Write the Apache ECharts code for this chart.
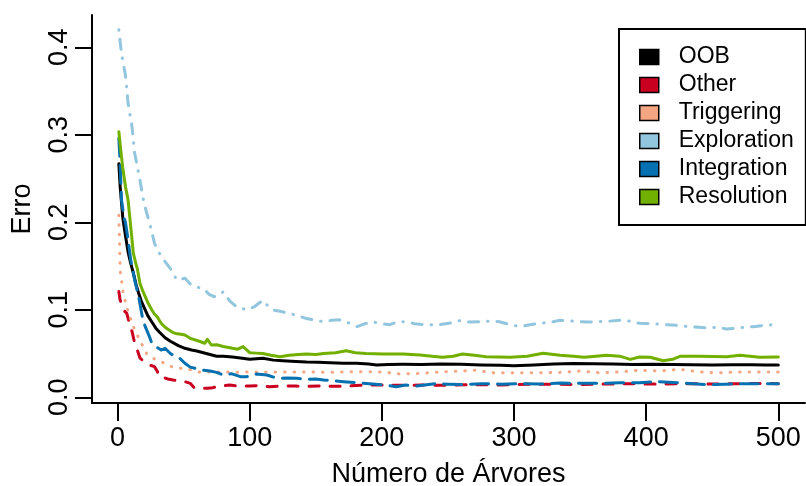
<!DOCTYPE html>
<html>
<head>
<meta charset="utf-8">
<script src="https://cdn.jsdelivr.net/npm/echarts@6/dist/echarts.min.js"></script>
<style>
  html, body { margin: 0; padding: 0; background: #fff; }
  #chart { width: 806px; height: 486px; }
</style>
</head>
<body>
<div id="chart"></div>
<script>
// valores (numero de arvores -> erro)
var xTicks = [0, 100, 200, 300, 400, 500];
var yTicks = [0, 0.1, 0.2, 0.3, 0.4];

var oobTrees = [1,2,4,6,8,10,12,14,16,18,20,23,26,29,32,36,40,46,51,56,60,65,70,75,80,87,93,100,105,110,118,125,135,143,152,161,171,181,190,196,205,216,230,245,260,275,290,300,315,330,345,360,375,390,405,420,435,450,465,480,490,500];
var oobErr = [0.267,0.241,0.205,0.185,0.166,0.153,0.142,0.129,0.119,0.110,0.103,0.093,0.086,0.079,0.074,0.068,0.064,0.059,0.056,0.054,0.053,0.051,0.049,0.047,0.047,0.046,0.045,0.0434,0.044,0.0446,0.0425,0.0418,0.041,0.0403,0.040,0.0396,0.039,0.0389,0.038,0.037,0.0375,0.0377,0.0375,0.038,0.0377,0.037,0.0365,0.036,0.037,0.038,0.0385,0.0383,0.038,0.0375,0.0378,0.0375,0.0372,0.037,0.0372,0.0373,0.037,0.037];

var otherTrees = [1,2,3,5,7,9,11,13,15,17,19,21,24,28,30,32,35,38,42,46,51,55,58,64,68,72,78,85,92,100,108,115,125,135,145,155,165,175,185,195,205,215,230,250,270,290,310,330,350,370,390,410,430,450,470,490,500];
var otherErr = [0.121,0.111,0.107,0.099,0.096,0.085,0.075,0.062,0.054,0.045,0.042,0.039,0.037,0.035,0.030,0.023,0.0225,0.021,0.0198,0.019,0.0179,0.016,0.011,0.0105,0.0103,0.011,0.013,0.014,0.0125,0.013,0.0135,0.012,0.013,0.0128,0.0125,0.013,0.0125,0.013,0.0137,0.014,0.014,0.0137,0.014,0.0137,0.0145,0.014,0.0148,0.015,0.0145,0.0152,0.0155,0.015,0.0156,0.0152,0.0156,0.0158,0.0156];

var trigTrees = [1,2,3,4,6,8,11,14,18,22,27,33,41,48,56,63,70,80,90,100,115,130,145,160,180,200,214,230,245,260,270,285,300,320,335,350,365,380,395,410,425,440,455,470,485,500];
var trigErr = [0.208,0.145,0.134,0.122,0.109,0.098,0.0846,0.074,0.062,0.050,0.0446,0.0407,0.035,0.0331,0.0312,0.0285,0.029,0.029,0.0285,0.029,0.029,0.029,0.029,0.0285,0.0293,0.029,0.0266,0.0275,0.029,0.030,0.031,0.028,0.028,0.028,0.0285,0.030,0.028,0.029,0.031,0.030,0.032,0.029,0.028,0.029,0.029,0.029];

var explTrees = [1,3,6,8,11,13,17,20,25,28,33,40,45,51,56,59,65,69,73,77,80,85,90,98,104,110,114,118,124,130,137,143,150,156,162,168,175,181,187,193,200,206,212,219,225,231,244,252,259,266,274,282,289,297,305,312,320,328,335,345,355,363,372,380,388,395,405,416,425,433,440,446,454,461,468,474,481,488,496,500];
var explErr = [0.420,0.393,0.368,0.336,0.309,0.279,0.248,0.222,0.195,0.176,0.161,0.147,0.134,0.136,0.128,0.126,0.1245,0.118,0.115,0.117,0.1207,0.110,0.1035,0.0998,0.104,0.111,0.104,0.0998,0.098,0.096,0.093,0.090,0.088,0.0864,0.088,0.0886,0.085,0.0807,0.084,0.0864,0.084,0.083,0.0864,0.0864,0.084,0.083,0.083,0.085,0.0876,0.086,0.0864,0.087,0.0864,0.083,0.0807,0.083,0.0846,0.086,0.088,0.087,0.086,0.0864,0.087,0.088,0.087,0.0846,0.084,0.083,0.082,0.0807,0.080,0.0795,0.080,0.078,0.079,0.080,0.0807,0.082,0.083,0.0853];

var integTrees = [1,2,3,5,6,8,10,13,16,19,21,24,26,29,33,36,40,44,47,51,55,59,65,70,75,80,86,93,98,105,113,121,128,136,143,150,156,163,171,181,193,203,211,218,226,240,250,262,275,290,305,320,335,350,365,380,395,410,420,430,446,460,475,490,500];
var integErr = [0.296,0.267,0.2255,0.205,0.200,0.180,0.157,0.134,0.115,0.090,0.0807,0.070,0.0617,0.058,0.054,0.056,0.050,0.0464,0.0446,0.0389,0.0345,0.0331,0.031,0.030,0.0285,0.0255,0.027,0.0236,0.0236,0.0266,0.0255,0.0217,0.022,0.0217,0.0206,0.021,0.0198,0.019,0.0179,0.0167,0.0152,0.014,0.0121,0.014,0.0129,0.0156,0.015,0.0145,0.0156,0.015,0.0156,0.0152,0.0163,0.016,0.016,0.0165,0.0167,0.0179,0.017,0.016,0.0145,0.015,0.0156,0.0155,0.0156];

var resTrees = [1,2,3,4,6,8,10,12,14,15,17,19,21,23,26,28,30,33,36,39,42,44,48,51,55,59,63,66,68,71,75,80,84,87,91,95,100,105,110,116,123,130,137,143,150,156,165,173,180,188,201,216,229,238,246,254,261,270,279,288,297,310,322,335,345,353,362,370,380,388,395,403,413,420,426,440,461,471,486,500];
var resErr = [0.3035,0.302,0.275,0.262,0.241,0.2255,0.195,0.1646,0.152,0.147,0.130,0.122,0.115,0.108,0.0998,0.095,0.092,0.0846,0.080,0.077,0.074,0.073,0.072,0.0712,0.0674,0.0655,0.0635,0.0617,0.0663,0.0598,0.060,0.058,0.057,0.056,0.055,0.058,0.051,0.0505,0.050,0.048,0.0464,0.048,0.049,0.0495,0.049,0.050,0.051,0.0533,0.051,0.050,0.0495,0.0495,0.0483,0.047,0.0457,0.047,0.0495,0.048,0.0464,0.046,0.0457,0.047,0.0503,0.048,0.047,0.0457,0.047,0.048,0.047,0.0434,0.046,0.0457,0.0418,0.0434,0.047,0.047,0.0464,0.048,0.0457,0.046];

var font = "'Liberation Sans', Arial, Helvetica, sans-serif";

function zip(xs, ys) {
	var out = [];
	for (var i = 0; i < xs.length; i++) {
		out.push([xs[i], ys[i]]);
	}
	return out;
}

function serie(name, trees, errs, color, dash) {
	return {
		name: name,
		type: 'line',
		data: zip(trees, errs),
		symbol: 'none',
		color: color,
		lineStyle: { color: color, width: 3, type: dash, cap: 'round', join: 'round' },
		z: 3
	};
}

var myChart = echarts.init(document.getElementById('chart'), null, { renderer: 'canvas' });

var option = {
	animation: false,
	backgroundColor: '#fff',
	textStyle: { fontFamily: font },
	grid: { left: 92, right: 1, top: 15, bottom: 83, containLabel: false, outerBoundsMode: 'none' },
	xAxis: {
		type: 'value',
		min: -19.3,
		max: 520.2,
		name: 'Número de Árvores',
		nameLocation: 'middle',
		nameGap: 58,
		nameTextStyle: { fontSize: 27, color: '#000', fontFamily: font },
		axisLine: { show: true, onZero: false, lineStyle: { color: '#000', width: 2 } },
		axisTick: { show: true, inside: false, length: 18, customValues: xTicks, lineStyle: { color: '#000', width: 2 } },
		axisLabel: { customValues: xTicks, margin: 22, fontSize: 27, color: '#000', fontFamily: font },
		splitLine: { show: false }
	},
	yAxis: {
		type: 'value',
		min: -0.0065,
		max: 0.4369,
		name: 'Erro',
		nameLocation: 'middle',
		nameRotate: 90,
		nameGap: 56,
		nameTextStyle: { fontSize: 27, color: '#000', fontFamily: font },
		axisLine: { show: true, onZero: false, lineStyle: { color: '#000', width: 2 } },
		axisTick: { show: true, inside: false, length: 17, customValues: yTicks, lineStyle: { color: '#000', width: 2 } },
		axisLabel: {
			customValues: yTicks,
			rotate: 90,
			margin: 19,
			fontSize: 27,
			color: '#000',
			fontFamily: font,
			formatter: function (v) { return v.toFixed(1); }
		},
		splitLine: { show: false }
	},
	legend: {
		orient: 'vertical',
		left: 619,
		top: 29,
		icon: 'rect',
		itemWidth: 19,
		itemHeight: 15,
		itemGap: 0,
		padding: [14, 12, 14, 20],
		borderColor: '#000',
		borderWidth: 2,
		backgroundColor: '#fff',
		itemStyle: { borderColor: '#000', borderWidth: 1.5 },
		lineStyle: { width: 0 },
		textStyle: { fontSize: 23, color: '#000', fontFamily: font, lineHeight: 28, padding: [0, 0, 0, 15] },
		data: ['OOB', 'Other', 'Triggering', 'Exploration', 'Integration', 'Resolution']
	},
	series: [
		serie('OOB', oobTrees, oobErr, '#000000', 'solid'),
		serie('Other', otherTrees, otherErr, '#CA0020', [10, 11]),
		serie('Triggering', trigTrees, trigErr, '#F4A582', [0.5, 9]),
		serie('Exploration', explTrees, explErr, '#92C5DE', [0.5, 9, 10, 9]),
		serie('Integration', integTrees, integErr, '#0571B0', [18, 9]),
		serie('Resolution', resTrees, resErr, '#72B000', 'solid')
	]
};

myChart.setOption(option);
</script>
</body>
</html>
